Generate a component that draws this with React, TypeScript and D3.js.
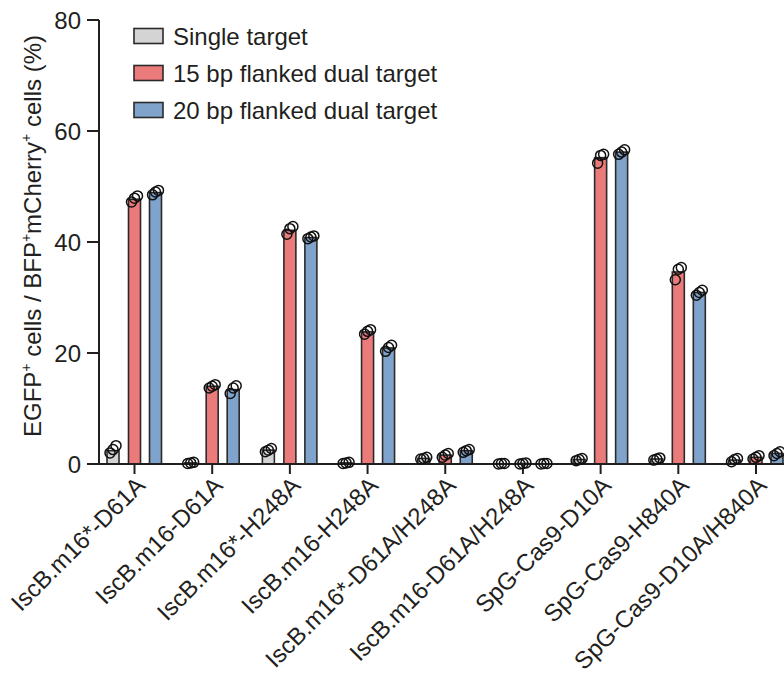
import React from "react";
import * as d3 from "d3";

const categories = [
  "IscB.m16*-D61A",
  "IscB.m16-D61A",
  "IscB.m16*-H248A",
  "IscB.m16-H248A",
  "IscB.m16*-D61A/H248A",
  "IscB.m16-D61A/H248A",
  "SpG-Cas9-D10A",
  "SpG-Cas9-H840A",
  "SpG-Cas9-D10A/H840A",
];

const seriesNames = ["Single target", "15 bp flanked dual target", "20 bp flanked dual target"];

const singleMean = [2.4, 0.2, 2.5, 0.2, 1.0, 0.05, 0.8, 0.9, 0.7];
const dual15Mean = [47.7, 14.0, 42.1, 23.8, 1.6, 0.1, 55.2, 34.6, 1.2];
const dual20Mean = [48.9, 13.4, 40.8, 20.9, 2.4, 0.05, 56.2, 30.9, 1.9];

const singlePts = [
  [2.0, 2.6, 3.3], [0.1, 0.2, 0.3], [2.2, 2.5, 2.8], [0.1, 0.2, 0.3], [0.9, 1.0, 1.2],
  [0.0, 0.1, 0.1], [0.6, 0.8, 1.0], [0.7, 0.9, 1.1], [0.4, 0.8, 1.0],
];
const dual15Pts = [
  [47.2, 47.9, 48.3], [13.7, 14.0, 14.3], [41.4, 42.4, 42.8], [23.4, 23.9, 24.2], [1.2, 1.6, 1.9],
  [0.0, 0.1, 0.2], [54.2, 55.6, 55.8], [33.2, 35.1, 35.4], [0.9, 1.2, 1.5],
];
const dual20Pts = [
  [48.5, 49.0, 49.3], [12.7, 13.7, 14.1], [40.6, 40.9, 41.1], [20.3, 21.0, 21.4], [2.1, 2.4, 2.6],
  [0.0, 0.1, 0.1], [55.8, 56.2, 56.6], [30.4, 30.9, 31.3], [1.5, 1.9, 2.2],
];

const yTicks = [0, 20, 40, 60, 80];

const colors = ["#d4d4d4", "#eb7a7a", "#80a3cc"];
const FONT = "'Liberation Sans', Arial, Helvetica, sans-serif";
const TXT = "#231f20";

export default function App() {
  const W = 784;
  const H = 675;
  const x0 = 99;
  const yScale = d3.scaleLinear().domain([0, 80]).range([464, 20]);
  const xScale = d3.scalePoint<string>().domain(categories).range([134.5, 756]);
  const offsets = [-21.5, 0, 21];
  const barW = 12;

  const means = [singleMean, dual15Mean, dual20Mean];
  const pts = [singlePts, dual15Pts, dual20Pts];
  const jitter = [-3, 0, 3];

  return (
    <svg width={W} height={H} style={{ display: "block", position: "absolute", left: 0, top: 0 }} fontFamily={FONT}>
      <rect width={W} height={H} fill="#fff" />
      {/* bars */}
      {categories.map((c, ci) =>
        means.map((m, si) => {
          const cx = (xScale(c) as number) + offsets[si];
          const y = yScale(m[ci]);
          return (
            <rect
              key={`b${ci}-${si}`}
              x={cx - barW / 2}
              y={y}
              width={barW}
              height={yScale(0) - y}
              fill={colors[si]}
              stroke="#2a2a2a"
              strokeWidth={1.6}
            />
          );
        })
      )}
      {/* axes */}
      <line x1={x0} x2={x0} y1={yScale(80)} y2={yScale(0)} stroke={TXT} strokeWidth={2} />
      <line x1={x0} x2={W} y1={yScale(0)} y2={yScale(0)} stroke={TXT} strokeWidth={2} />
      {yTicks.map((t) => (
        <g key={t}>
          <line x1={x0 - 12} x2={x0} y1={yScale(t)} y2={yScale(t)} stroke={TXT} strokeWidth={2} />
          <text x={x0 - 18} y={yScale(t)} dy="0.36em" textAnchor="end" fontSize={24} fill={TXT}>
            {t}
          </text>
        </g>
      ))}
      {categories.map((c) => (
        <g key={c}>
          <line x1={xScale(c)} x2={xScale(c)} y1={yScale(0)} y2={yScale(0) + 10} stroke={TXT} strokeWidth={2} />
          <text
            transform={`translate(${(xScale(c) as number) + 12},${487}) rotate(-45)`}
            textAnchor="end"
            fontSize={24}
            fill={TXT}
          >
            {c}
          </text>
        </g>
      ))}
      {/* points */}
      {categories.map((c, ci) =>
        pts.map((p, si) =>
          p[ci].map((v, k) => (
            <circle
              key={`p${ci}-${si}-${k}`}
              cx={(xScale(c) as number) + offsets[si] + jitter[k]}
              cy={yScale(v)}
              r={5}
              fill="none"
              stroke="#111"
              strokeWidth={1.5}
            />
          ))
        )
      )}
      {/* y label */}
      <text transform="translate(41,236) rotate(-90)" textAnchor="middle" fontSize={24} fill={TXT}>
        EGFP<tspan fontSize={14} dy={-10}>+</tspan>
        <tspan dy={10}> cells / BFP</tspan>
        <tspan fontSize={14} dy={-10}>+</tspan>
        <tspan dy={10}>mCherry</tspan>
        <tspan fontSize={14} dy={-10}>+</tspan>
        <tspan dy={10}> cells (%)</tspan>
      </text>
      {/* legend */}
      {seriesNames.map((s, i) => {
        const cy = 36 + i * 37;
        return (
          <g key={s}>
            <rect x={134} y={cy - 7.5} width={29} height={15} fill={colors[i]} stroke="#2a2a2a" strokeWidth={1.6} />
            <text x={173} y={cy} dy="0.36em" fontSize={24} fill={TXT}>
              {s}
            </text>
          </g>
        );
      })}
    </svg>
  );
}
